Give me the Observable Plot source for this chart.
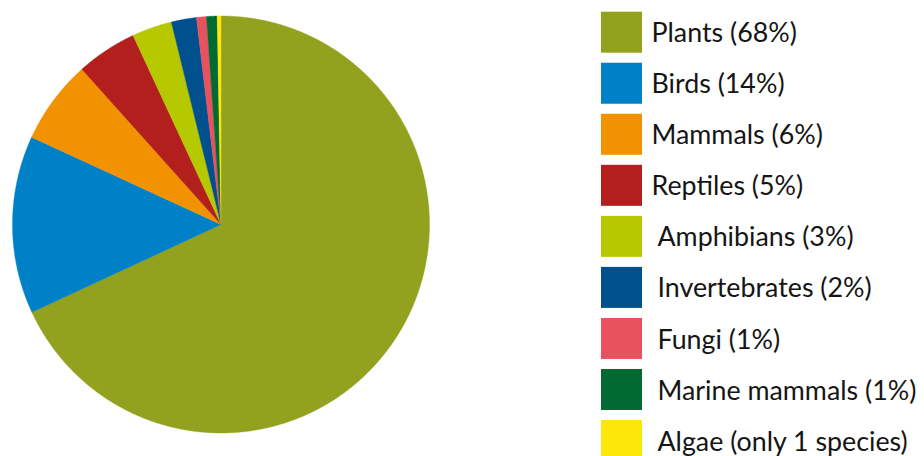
<!DOCTYPE html>
<html>
<head>
<meta charset="utf-8">
<script src="https://cdn.jsdelivr.net/npm/d3@7"></script>
<script src="https://cdn.jsdelivr.net/npm/@observablehq/plot@0.6"></script>
<style>
  html, body { margin: 0; padding: 0; background: #ffffff; }
  #chart svg { display: block; }
</style>
</head>
<body>
<div id="chart"></div>
<script>
// ---- data ----
const categories = ["Plants", "Birds", "Mammals", "Reptiles", "Amphibians", "Invertebrates", "Fungi", "Marine mammals", "Algae"];
const shares = [68.1, 13.8, 6.5, 4.7, 3.1, 1.95, 0.77, 0.82, 0.29];
const labels = ["Plants (68%)", "Birds (14%)", "Mammals (6%)", "Reptiles (5%)", "Amphibians (3%)", "Invertebrates (2%)", "Fungi (1%)", "Marine mammals (1%)", "Algae (only 1 species)"];
const colors = ["#93a21e", "#0080c6", "#f39200", "#b21f1c", "#b5c800", "#00508e", "#e8515e", "#006a32", "#fde70b"];

// ---- layout ----
const W = 924, H = 456;
const cx = 220.5, cy = 224, R = 208.5;
const font = "Lato, 'Open Sans', sans-serif";

// slice outlines from pie angles
const arcs = d3.pie().sort(null).startAngle(0).endAngle(2 * Math.PI)(shares);
const slicePts = [];
arcs.forEach((a, i) => {
  const name = categories[i];
  const n = Math.max(2, Math.ceil((a.endAngle - a.startAngle) / (Math.PI / 720)));
  slicePts.push({name, x: cx, y: cy});
  for (let k = 0; k <= n; k++) {
    const t = a.startAngle + (a.endAngle - a.startAngle) * k / n;
    slicePts.push({name, x: cx + R * Math.sin(t), y: cy - R * Math.cos(t)});
  }
  slicePts.push({name, x: cx, y: cy});
});

const legend = categories.map((c, i) => ({name: c, label: labels[i], i}));
const sw = 41, step = 51.04, top0 = 11.7, swX = 601;

const chart = Plot.plot({
  width: W,
  height: H,
  margin: 0,
  x: {domain: [0, W], range: [0, W], axis: null},
  y: {domain: [0, H], range: [0, H], axis: null},
  color: {domain: categories, range: colors},
  style: {background: "#ffffff"},
  marks: [
    Plot.line(slicePts, {x: "x", y: "y", z: "name", fill: "name", stroke: "name", strokeWidth: 0.4, curve: "linear"}),
    Plot.rect(legend, {
      x1: () => swX, x2: () => swX + sw,
      y1: d => top0 + d.i * step, y2: d => top0 + d.i * step + sw,
      fill: "name"
    }),
    Plot.text(legend, {
      x: d => d.i < 4 ? 651 : 657,
      y: d => top0 + d.i * step + sw / 2 + 1,
      text: "label",
      textAnchor: "start",
      lineAnchor: "middle",
      fontSize: 26.8,
      fontFamily: font,
      fill: "#151515"
    })
  ]
});
document.getElementById("chart").appendChild(chart);
</script>
</body>
</html>
